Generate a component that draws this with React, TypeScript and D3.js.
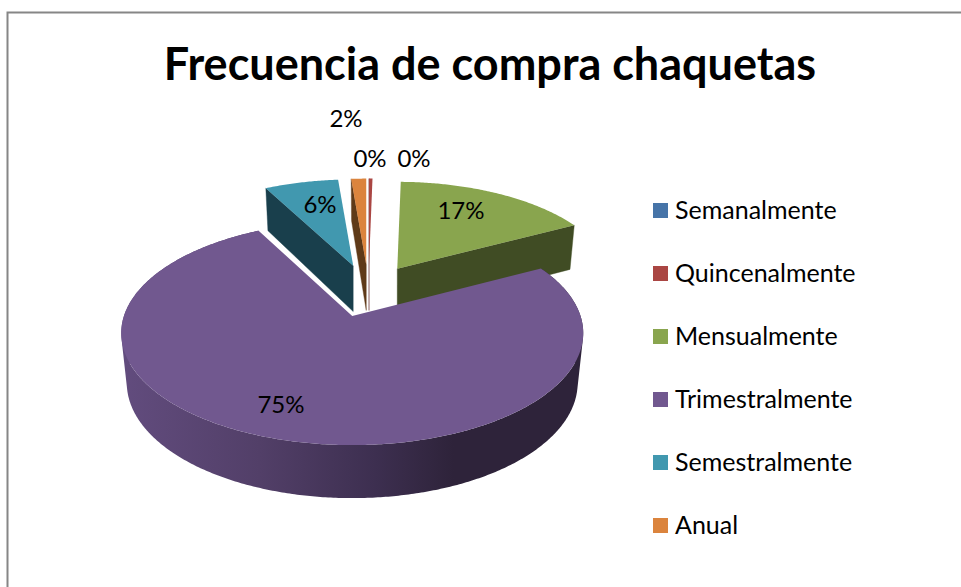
import React from "react";
import * as d3 from "d3";

const title = "Frecuencia de compra chaquetas";
const categories = ["Semanalmente", "Quincenalmente", "Mensualmente", "Trimestralmente", "Semestralmente", "Anual"];
const shares = [0, 0.3, 17, 75, 6.4, 1.3];
const percentLabels = ["0%", "0%", "17%", "75%", "6%", "2%"];
const topColors = ["#4674a8", "#aa4643", "#89a54e", "#71588f", "#4198af", "#db843d"];
const wallColors = ["#24405c", "#5e2220", "#404c24", "#3f3056", "#193f4c", "#5f3a18"];

// label anchors (centre x, baseline y), in category order
const labelX = [370, 414, 461, 281, 320, 346];
const labelY = [167, 167, 219, 413, 213, 127];

const W = 961, H = 587;
const BASE_X = 368.5, BASE_Y = 291;
const KX = 228.3, KY = 109.4, PERSP = 0.152, EXPLODE = 0.24;
const START = 0;

const pieGen = d3.pie<number>().sort(null).startAngle(START).endAngle(START + 2 * Math.PI);
const arcs = pieGen(shares);
const color = d3.scaleOrdinal<string, string>().domain(categories).range(topColors);
const wall = d3.scaleOrdinal<string, string>().domain(categories).range(wallColors);
const legendY = d3.scalePoint<string>().domain(categories).range([210.5, 525.5]);
const line = d3.line<number[]>().x((d) => d[0]).y((d) => d[1]);

function geom(a0: number, a1: number) {
  const mid = (a0 + a1) / 2;
  const ox = EXPLODE * KX * Math.sin(mid);
  const oy = -EXPLODE * KY * Math.cos(mid);
  const ax = BASE_X + ox, ay = BASE_Y + oy;
  const s = 1 + (0.062 * (oy - 25)) / 47;
  const sy = 1 + (0.085 * (oy - 25)) / 47;
  const top = (a: number) => {
    const u = Math.sin(a), v = -Math.cos(a), d = 1 - PERSP * v;
    return [ax + (s * KX * u) / d, ay + (sy * KY * v) / d];
  };
  const bottom = (a: number) => {
    const v = -Math.cos(a), t = top(a);
    return [ax + 0.976 * (t[0] - ax), t[1] + (49 + 4 * v) * s];
  };
  return { ax, ay, s, top, bottom, apexBottom: [ax, ay + 49 * s], mid };
}

function sweep(a0: number, a1: number) {
  const n = Math.max(2, Math.ceil((a1 - a0) / 0.01));
  return d3.range(n + 1).map((i) => a0 + ((a1 - a0) * i) / n);
}

export default function App() {
  const visible = arcs.map((a, i) => ({ a, i })).filter((d) => d.a.value > 0);
  const big = visible.filter((d) => d.a.value > 50);
  const small = visible.filter((d) => d.a.value <= 50);

  const face = (a0: number, a1: number) => {
    const g = geom(a0, a1);
    return line([[g.ax, g.ay], ...sweep(a0, a1).map(g.top)]) + "Z";
  };
  const cutWall = (a0: number, a1: number) => {
    const g = geom(a0, a1);
    const e = g.mid > 0.1 && g.mid < Math.PI ? a1 : a0;
    return line([[g.ax, g.ay], g.top(e), g.bottom(e), g.apexBottom]) + "Z";
  };
  // the curved wall is a union of small quads, each wound the same way, so the
  // silhouette between the upper and lower rims stays filled
  const outerWall = (a0: number, a1: number) => {
    const g = geom(a0, a1);
    const ang = sweep(a0, a1);
    return d3
      .pairs(ang)
      .map(([p, q]) => {
        const quad = [g.top(p), g.top(q), g.bottom(q), g.bottom(p)] as [number, number][];
        if (d3.polygonArea(quad) < 0) quad.reverse();
        return line(quad) + "Z";
      })
      .join("");
  };

  return (
    <svg
      width={W}
      height={H}
      viewBox={`0 0 ${W} ${H}`}
      style={{ position: "absolute", left: 0, top: 0, background: "#fff" }}
      fontFamily="Lato, 'Open Sans', sans-serif"
    >
      <defs>
        <linearGradient id="purpleWall" gradientUnits="userSpaceOnUse" x1={121} x2={583} y1={0} y2={0}>
          <stop offset="0" stopColor="#624c7e" />
          <stop offset="0.3" stopColor="#523f68" />
          <stop offset="0.55" stopColor="#3d2f50" />
          <stop offset="0.72" stopColor="#2e233a" />
          <stop offset="1" stopColor="#2e233a" />
        </linearGradient>
      </defs>

      <path d={`M7.5 587V12.5H${W}`} fill="none" stroke="#868686" strokeWidth={2} />

      <text x={490} y={80} textAnchor="middle" fontSize={45} fontWeight={700} fill="#000">
        {title}
      </text>

      {small.map(({ a, i }) => (
        <g key={categories[i]}>
          <path
            d={cutWall(a.startAngle, a.endAngle)}
            fill={wall(categories[i])}
            stroke={wall(categories[i])}
            strokeWidth={0.4}
          />
          <path d={face(a.startAngle, a.endAngle)} fill={color(categories[i])} />
        </g>
      ))}
      {big.map(({ a, i }) => (
        <g key={categories[i]}>
          <path d={outerWall(a.startAngle, a.endAngle)} fill="url(#purpleWall)" stroke="none" fillRule="nonzero" />
          <path d={face(a.startAngle, a.endAngle)} fill={color(categories[i])} />
        </g>
      ))}

      {percentLabels.map((t, i) => (
        <text key={i} x={labelX[i]} y={labelY[i]} textAnchor="middle" fontSize={24} fill="#000">
          {t}
        </text>
      ))}

      {categories.map((c) => {
        const y = legendY(c) as number;
        return (
          <g key={c}>
            <rect x={653} y={y - 7.5} width={15} height={15} fill={color(c)} />
            <text x={675} y={y + 8} fontSize={25} fill="#000">
              {c}
            </text>
          </g>
        );
      })}
    </svg>
  );
}
